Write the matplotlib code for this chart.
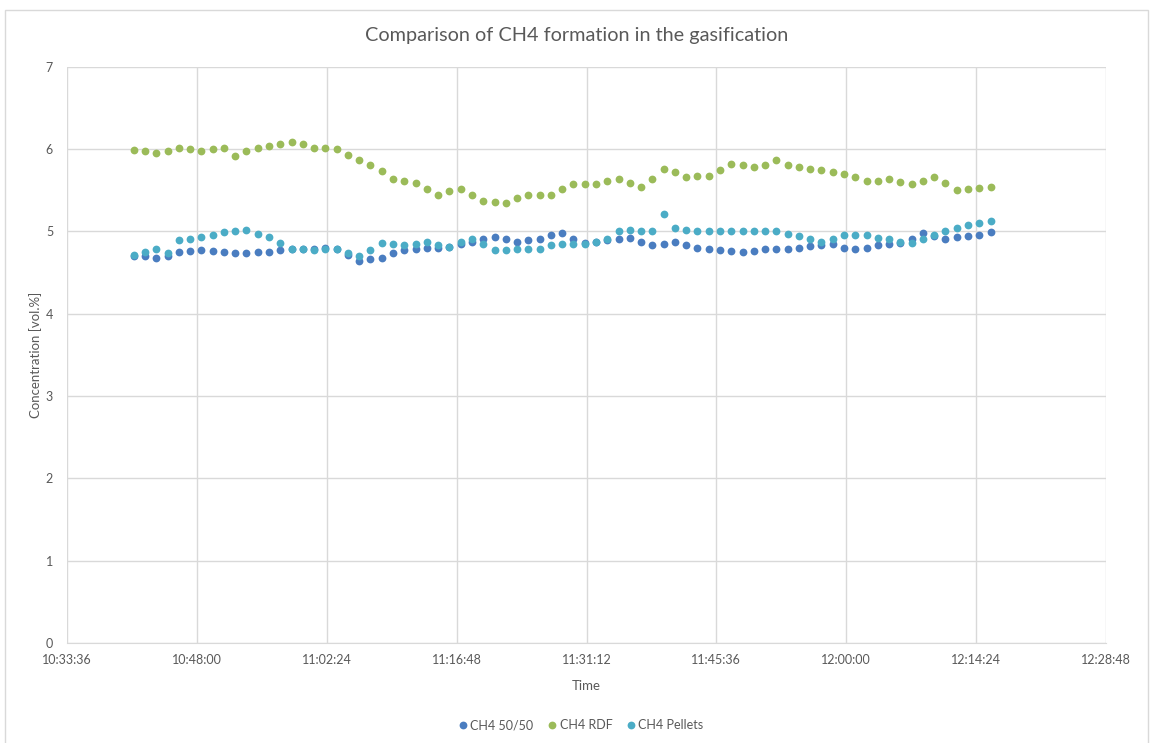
import numpy as np
import pandas as pd
import matplotlib
matplotlib.use("Agg")
import matplotlib.pyplot as plt
import matplotlib.dates as mdates
from matplotlib.patches import Rectangle

plt.rcParams['font.family'] = ['Lato', 'DejaVu Sans']

# === Data: readings every 75 s from 10:41:00 ===
times = pd.date_range("2020-01-01 10:41:00", periods=77, freq="75s")

ch4_5050 = [4.70, 4.70, 4.67, 4.70, 4.75, 4.76, 4.77, 4.76, 4.75, 4.73,
            4.73, 4.75, 4.75, 4.77, 4.79, 4.79, 4.79, 4.80, 4.79, 4.71,
            4.64, 4.66, 4.67, 4.73, 4.77, 4.79, 4.80, 4.80, 4.81, 4.85,
            4.87, 4.90, 4.93, 4.90, 4.87, 4.89, 4.91, 4.95, 4.98, 4.91,
            4.86, 4.87, 4.89, 4.90, 4.92, 4.87, 4.83, 4.85, 4.87, 4.83,
            4.80, 4.79, 4.77, 4.76, 4.75, 4.76, 4.79, 4.79, 4.79, 4.80,
            4.82, 4.83, 4.85, 4.80, 4.79, 4.80, 4.83, 4.85, 4.86, 4.91,
            4.98, 4.94, 4.90, 4.93, 4.94, 4.96, 4.99]

ch4_rdf = [5.99, 5.97, 5.95, 5.98, 6.01, 6.00, 5.98, 6.00, 6.01, 5.91,
           5.98, 6.01, 6.04, 6.06, 6.08, 6.06, 6.01, 6.01, 6.00, 5.93,
           5.87, 5.80, 5.73, 5.64, 5.61, 5.59, 5.51, 5.44, 5.49, 5.51,
           5.44, 5.37, 5.36, 5.34, 5.40, 5.44, 5.44, 5.44, 5.51, 5.57,
           5.57, 5.57, 5.61, 5.64, 5.59, 5.54, 5.64, 5.76, 5.72, 5.66,
           5.67, 5.67, 5.74, 5.82, 5.80, 5.78, 5.81, 5.86, 5.81, 5.78,
           5.76, 5.74, 5.72, 5.70, 5.66, 5.61, 5.61, 5.63, 5.60, 5.57,
           5.61, 5.66, 5.59, 5.50, 5.51, 5.53, 5.54]

ch4_pellets = [4.71, 4.75, 4.79, 4.74, 4.89, 4.90, 4.93, 4.96, 4.99, 5.00,
               5.02, 4.97, 4.93, 4.86, 4.79, 4.78, 4.77, 4.78, 4.79, 4.74,
               4.70, 4.77, 4.86, 4.84, 4.83, 4.84, 4.87, 4.83, 4.81, 4.87,
               4.91, 4.85, 4.77, 4.77, 4.78, 4.79, 4.79, 4.83, 4.85, 4.85,
               4.85, 4.87, 4.90, 5.00, 5.02, 5.00, 5.00, 5.21, 5.04, 5.02,
               5.00, 5.00, 5.00, 5.00, 5.00, 5.00, 5.00, 5.00, 4.97, 4.94,
               4.90, 4.87, 4.90, 4.95, 4.95, 4.95, 4.92, 4.91, 4.87, 4.86,
               4.91, 4.95, 5.00, 5.04, 5.08, 5.10, 5.12]

series = [("CH4 50/50", ch4_5050, "#4A7DC0"),
          ("CH4 RDF", ch4_rdf, "#9BBB59"),
          ("CH4 Pellets", ch4_pellets, "#4BACC6")]

x_ticks = pd.date_range("2020-01-01 10:33:36", "2020-01-01 12:28:48", freq="864s")

grid_col = "#D9D9D9"
text_col = "#595959"

fig = plt.figure(figsize=(11.54, 7.43), dpi=100)
ax = fig.add_axes([67 / 1154, 100 / 743, 1039 / 1154, 576.5 / 743])

# chart border
fig.patches.append(Rectangle((4.5 / 1154, -0.05), 1143 / 1154, 1.05 - 9.5 / 743,
                             transform=fig.transFigure, fill=False,
                             edgecolor=grid_col, linewidth=1))

for name, vals, col in series:
    ax.plot(times, vals, linestyle="none", marker="o", markersize=5.6,
            color=col, markeredgewidth=0, label=name)

ax.set_xlim(x_ticks[0], x_ticks[-1])
ax.set_ylim(0, 7)
ax.set_xticks(x_ticks)
ax.xaxis.set_major_formatter(mdates.DateFormatter("%H:%M:%S"))
ax.set_yticks(range(0, 8))

ax.grid(True, color=grid_col, linewidth=1)
ax.set_axisbelow(True)
for s in ["top", "right", "left"]:
    ax.spines[s].set_visible(False)
ax.spines["bottom"].set_color(grid_col)
ax.tick_params(length=0, labelsize=9, colors=text_col, pad=8)
ax.tick_params(axis="y", pad=10)

ax.set_xlabel("Time", fontsize=9.5, color=text_col, labelpad=10)
ax.set_ylabel("Concentration [vol.%]", fontsize=9.5, color=text_col)
ax.yaxis.set_label_coords(-(67 - 42) / 1039, 0.5)

fig.text(577 / 1154, 1 - 35 / 743, "Comparison of CH4 formation in the gasification",
         ha="center", va="center", fontsize=14.3, color=text_col)

fig.legend(loc="center", bbox_to_anchor=(580 / 1154, 1 - 725 / 743), ncol=3,
           frameon=False, fontsize=9, handletextpad=0.1, columnspacing=1.0,
           markerscale=1.0, handlelength=1.0, labelcolor=text_col)

plt.savefig("out.png", dpi=100)
